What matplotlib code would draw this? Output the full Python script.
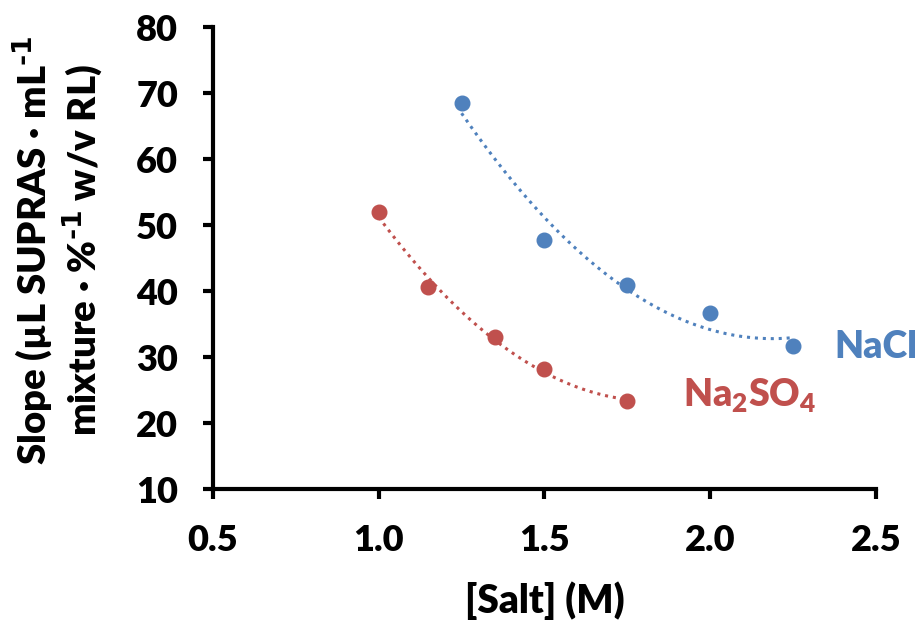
import numpy as np
import matplotlib
matplotlib.use("Agg")
import matplotlib.pyplot as plt

plt.rcParams['font.family'] = ['Lato', 'DejaVu Sans']
plt.rcParams['font.weight'] = 'heavy'
plt.rcParams['mathtext.default'] = 'regular'

nacl_x = [1.25, 1.5, 1.75, 2.0, 2.25]
nacl_y = [68.5, 47.8, 40.9, 36.6, 31.6]
na2so4_x = [1.0, 1.15, 1.35, 1.5, 1.75]
na2so4_y = [51.9, 40.6, 33.0, 28.2, 23.3]
xticks = [0.5, 1.0, 1.5, 2.0, 2.5]
yticks = [10, 20, 30, 40, 50, 60, 70, 80]

blue = '#4F81BD'
red = '#C0504D'
W = 'heavy'

fig = plt.figure(figsize=(9.2, 6.24), dpi=100)
ax = fig.add_axes([0.2315, 0.2163, 0.7205, 0.7404])

for xs, ys, c in [(nacl_x, nacl_y, blue), (na2so4_x, na2so4_y, red)]:
    p = np.polyfit(xs, ys, 2)
    xf = np.linspace(min(xs), max(xs), 200)
    ax.plot(xf, np.polyval(p, xf), linestyle=(0, (1, 1.6)), color=c, lw=2.2)
    ax.plot(xs, ys, 'o', color=c, ms=10.5, zorder=3)

ax.set_xlim(0.5, 2.5)
ax.set_ylim(10, 80)
ax.set_xticks(xticks)
ax.set_xticklabels([f"{v:.1f}" for v in xticks])
ax.set_yticks(yticks)
for s in ['top', 'right']:
    ax.spines[s].set_visible(False)
for s in ['left', 'bottom']:
    ax.spines[s].set_linewidth(3)
ax.tick_params(width=3, length=7, labelsize=26)
ax.tick_params(axis='x', pad=18)
ax.tick_params(axis='y', pad=18)
for lab in ax.get_xticklabels() + ax.get_yticklabels():
    lab.set_fontweight(W)

fig.text(545 / 920, 1 - 601 / 624, '[Salt] (M)', fontsize=28, fontweight=W,
         ha='center', va='center')
fig.text(58 / 920, 1 - 250 / 624,
         'Slope (µL SUPRAS · mL$^{\\text{-1}}$\nmixture · %$^{\\text{-1}}$ w/v RL)',
         fontsize=27.5, fontweight=W, rotation=90, ha='center', va='center',
         linespacing=1.15, multialignment='center')

ax.text(2.376, 31.5, 'NaCl', color=blue, fontsize=27, fontweight=W,
        ha='left', va='center', clip_on=False)
ax.text(1.918, 24.2, 'Na$_2$SO$_4$', color=red, fontsize=27, fontweight=W,
        ha='left', va='center', clip_on=False)

fig.savefig('out.png', dpi=100)
